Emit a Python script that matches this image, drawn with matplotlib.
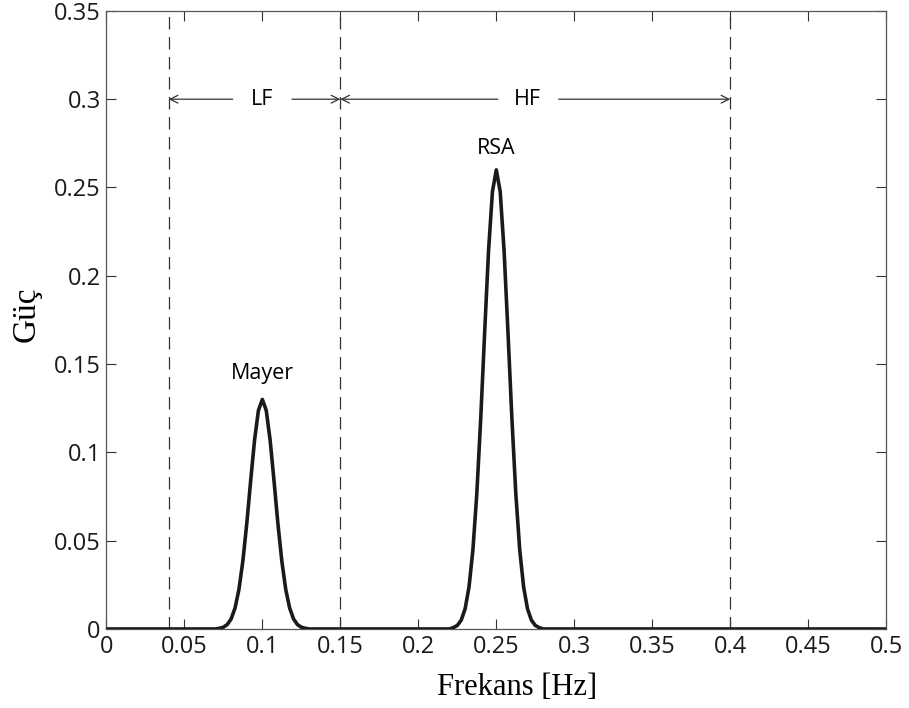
import numpy as np
import matplotlib.pyplot as plt

# frequency grid (Hz) and power
freq = [0.0, 0.05, 0.07, 0.0725, 0.075, 0.0775, 0.08, 0.0825, 0.085, 0.0875,
        0.09, 0.0925, 0.095, 0.0975, 0.1, 0.1025, 0.105, 0.1075, 0.11,
        0.1125, 0.115, 0.1175, 0.12, 0.1225, 0.125, 0.1275, 0.13, 0.2,
        0.22, 0.2225, 0.225, 0.2275, 0.23, 0.2325, 0.235, 0.2375, 0.24,
        0.2425, 0.245, 0.2475, 0.25, 0.2525, 0.255, 0.2575, 0.26, 0.2625,
        0.265, 0.2675, 0.27, 0.2725, 0.275, 0.2775, 0.28, 0.5]
power = [0.0, 0.0, 0.0, 0.0004, 0.001, 0.0025, 0.0057, 0.0119, 0.0224, 0.0384,
         0.0595, 0.0838, 0.1069, 0.1238, 0.13, 0.1238, 0.1069, 0.0838, 0.0595,
         0.0384, 0.0224, 0.0119, 0.0057, 0.0025, 0.001, 0.0004, 0.0, 0.0,
         0.0, 0.0008, 0.002, 0.005, 0.0114, 0.0238, 0.0448, 0.0767, 0.119,
         0.1675, 0.2139, 0.2476, 0.26, 0.2476, 0.2139, 0.1675, 0.119, 0.0767,
         0.0448, 0.0238, 0.0114, 0.005, 0.002, 0.0008, 0.0, 0.0]

bands = [0.04, 0.15, 0.4]
band_names = ['LF', 'HF']
band_text_x = [0.1, 0.27]
peaks = [(0.1, 0.139, 'Mayer'), (0.25, 0.266, 'RSA')]

plt.rcParams['font.family'] = ['Open Sans', 'DejaVu Sans']
fig = plt.figure(figsize=(9.09, 7.08), dpi=100)
ax = fig.add_axes([0.117, 0.1116, 0.858, 0.873])

for b in bands:
    ax.plot([b, b], [0, 0.35], color='#333333', lw=0.9, dashes=(10, 6))

ax.plot(freq, power, color='#1a1a1a', lw=2.6, solid_joinstyle='round', zorder=5)

for x, y, name in peaks:
    ax.text(x, y, name, ha='center', va='bottom', fontsize=15.5)

# band arrows with gap for the label
gaps = [(0.081, 0.119), (0.251, 0.29)]
ap = dict(arrowstyle='->', color='#333333', lw=0.9, shrinkA=0, shrinkB=0,
          mutation_scale=14)
for i, name in enumerate(band_names):
    lo, hi = bands[i], bands[i + 1]
    g0, g1 = gaps[i]
    ax.annotate('', xy=(lo, 0.3), xytext=(g0, 0.3), arrowprops=ap)
    ax.annotate('', xy=(hi, 0.3), xytext=(g1, 0.3), arrowprops=ap)
    ax.text(band_text_x[i], 0.3, name, ha='center', va='center', fontsize=15.5)

ax.set_xlim(0, 0.5)
ax.set_ylim(0, 0.35)
ax.set_xticks(np.arange(0, 0.501, 0.05))
ax.set_xticklabels(['0', '0.05', '0.1', '0.15', '0.2', '0.25', '0.3',
                    '0.35', '0.4', '0.45', '0.5'])
ax.set_yticks(np.arange(0, 0.351, 0.05))
ax.set_yticklabels(['0', '0.05', '0.1', '0.15', '0.2', '0.25', '0.3', '0.35'])
ax.tick_params(direction='in', length=7, width=0.8, top=True, right=True,
               labelsize=17, colors='#333333', labelcolor='#1a1a1a', pad=4)
for s in ax.spines.values():
    s.set_color('#555555')
    s.set_linewidth(0.9)

ax.set_xlabel('Frekans [Hz]', family='Liberation Serif', fontsize=22)
ax.xaxis.set_label_coords(0.526, -0.071, transform=ax.transAxes)
ax.xaxis.label.set_va('top')
ax.set_ylabel('Güç', family='Liberation Serif', fontsize=24)
ax.yaxis.set_label_coords(-0.083, 0.51, transform=ax.transAxes)

fig.savefig('out.png', dpi=100)
